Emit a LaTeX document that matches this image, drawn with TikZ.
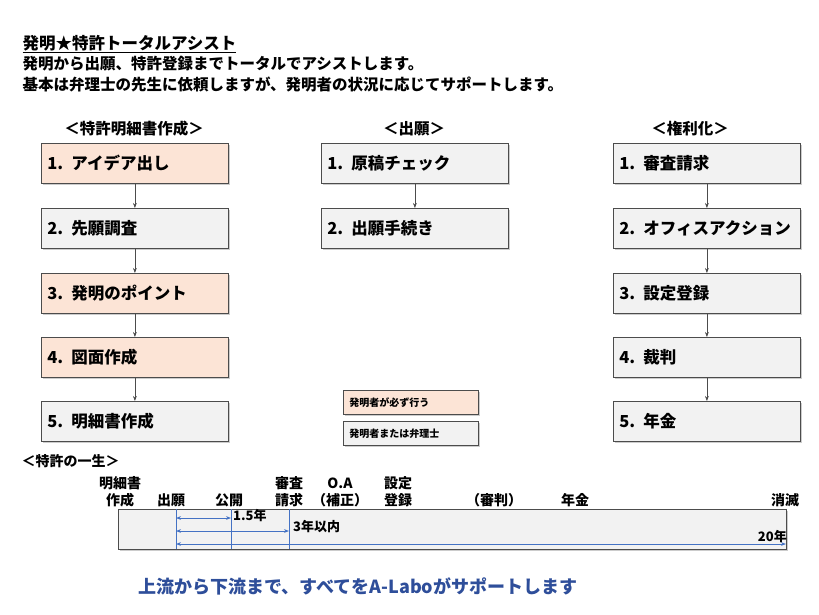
\documentclass[tikz,border=0pt]{standalone}
\usepackage{fontspec}
\setmainfont{Noto Sans CJK JP}
\usetikzlibrary{shadows,arrows.meta}
\definecolor{peach}{HTML}{FCE4D6}
\definecolor{lgray}{HTML}{F2F2F2}
\definecolor{fblue}{HTML}{2E4E9A}
\definecolor{lblue}{HTML}{4472C4}
\tikzset{
 stepbox/.style={draw=black!70,line width=0.8pt,minimum width=187pt,minimum height=40pt,anchor=north west,inner xsep=6pt,text width=175pt,align=left,font=\fontsize{16.5}{19}\selectfont\bfseries,drop shadow={shadow xshift=2pt,shadow yshift=-2pt,opacity=0.4}},
 legbox/.style={draw=black!70,line width=0.6pt,minimum width=135pt,minimum height=24pt,anchor=north west,inner xsep=6pt,text width=123pt,align=left,font=\fontsize{10}{12}\selectfont\bfseries,drop shadow={shadow xshift=1.5pt,shadow yshift=-1.5pt,opacity=0.4}},
 hdr/.style={font=\fontsize{15.5}{18}\selectfont\bfseries},
 tl/.style={font=\fontsize{14}{17}\selectfont\bfseries,align=center,anchor=south,inner sep=1pt},
 conn/.style={-{Stealth[length=5pt]},black!70,line width=0.6pt},
 bl/.style={lblue,line width=0.8pt},
}
\begin{document}
\begin{tikzpicture}[x=1pt,y=-1pt]
\useasboundingbox[fill=white] (0,0) rectangle (819,614);
\node[anchor=west,font=\fontsize{16.5}{19}\selectfont\bfseries] (t0) at (19,44) {\underline{発明★特許トータルアシスト}};
\node[anchor=west,font=\fontsize{15.5}{18}\selectfont\bfseries] (t1) at (19,64) {発明から出願、特許登録までトータルでアシストします。};
\node[anchor=west,font=\fontsize{15.5}{18}\selectfont\bfseries] (t2) at (19,84) {基本は弁理士の先生に依頼しますが、発明者の状況に応じてサポートします。};
\node[hdr] (h1) at (134,129) {＜特許明細書作成＞};
\node[hdr] (h2) at (414,129) {＜出願＞};
\node[hdr] (h3) at (690,129) {＜権利化＞};
\node[stepbox,fill=peach] (a1) at (41,143) {1. アイデア出し};
\node[stepbox,fill=lgray] (a2) at (41,208) {2. 先願調査};
\node[stepbox,fill=peach] (a3) at (41,273) {3. 発明のポイント};
\node[stepbox,fill=peach] (a4) at (41,337) {4. 図面作成};
\node[stepbox,fill=lgray] (a5) at (41,401) {5. 明細書作成};
\node[stepbox,fill=lgray] (b1) at (321,143) {1. 原稿チェック};
\node[stepbox,fill=lgray] (b2) at (321,208) {2. 出願手続き};
\node[stepbox,fill=lgray] (c1) at (613,143) {1. 審査請求};
\node[stepbox,fill=lgray] (c2) at (613,208) {2. オフィスアクション};
\node[stepbox,fill=lgray] (c3) at (613,273) {3. 設定登録};
\node[stepbox,fill=lgray] (c4) at (613,337) {4. 裁判};
\node[stepbox,fill=lgray] (c5) at (613,401) {5. 年金};
\foreach \u/\v in {a1/a2,a2/a3,a3/a4,a4/a5,b1/b2,c1/c2,c2/c3,c3/c4,c4/c5}
 \draw[conn] (\u) -- (\v);
\node[legbox,fill=peach] (l1) at (343,390) {発明者が必ず行う};
\node[legbox,fill=lgray] (l2) at (343,421) {発明者または弁理士};
\node[anchor=west,font=\fontsize{14}{17}\selectfont\bfseries] (h4) at (18,461) {＜特許の一生＞};
\node[draw=black!70,line width=0.8pt,fill=lgray,minimum width=668pt,minimum height=40pt,anchor=north west,drop shadow={shadow xshift=2pt,shadow yshift=-2pt,opacity=0.4}] (bar) at (118,509) {};
\coordinate (v1t) at (176,509); \coordinate (v1b) at (176,549);
\coordinate (v2t) at (231,509); \coordinate (v2b) at (231,549);
\coordinate (v3t) at (289,509); \coordinate (v3b) at (289,549);
\draw[bl,line width=0.6pt] (v1t)--(v1b) (v2t)--(v2b) (v3t)--(v3b);
\coordinate (p1) at (176,518); \coordinate (q1) at (231,518);
\coordinate (p2) at (176,531); \coordinate (q2) at (289,531);
\coordinate (p3) at (176,544); \coordinate (q3) at (786,544);
\draw[bl,{Stealth[length=5pt]}-{Stealth[length=5pt]}] (p1)--(q1);
\draw[bl,{Stealth[length=5pt]}-{Stealth[length=5pt]}] (p2)--(q2);
\draw[bl,{Stealth[length=5pt]}-{Stealth[length=5pt]}] (p3)--(q3);
\node[anchor=west,font=\fontsize{13}{15}\selectfont\bfseries,inner sep=1pt] (y1) at (232,516) {1.5年};
\node[anchor=west,font=\fontsize{13}{15}\selectfont\bfseries,inner sep=1pt] (y2) at (292,527) {3年以内};
\node[anchor=east,font=\fontsize{13}{15}\selectfont\bfseries,inner sep=1pt] (y3) at (788,537) {20年};
\node[tl] (m1) at (120,508) {明細書\\作成};
\node[tl] (m2) at (171,508) {出願};
\node[tl] (m3) at (229,508) {公開};
\node[tl] (m4) at (289,508) {審査\\請求};
\node[tl] (m5) at (340,508) {O.A\\（補正）};
\node[tl] (m6) at (398,508) {設定\\登録};
\node[tl] (m7) at (494,508) {（審判）};
\node[tl] (m8) at (575,508) {年金};
\node[tl] (m9) at (785,508) {消滅};
\node[font=\fontsize{18}{21}\selectfont\bfseries,text=fblue] (ft) at (358,586) {上流から下流まで、すべてをA-Laboがサポートします};
\end{tikzpicture}
\end{document}
